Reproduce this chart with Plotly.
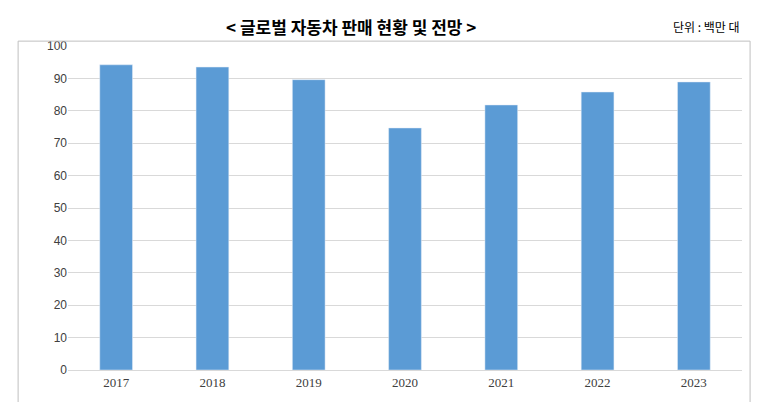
import plotly.graph_objects as go

years = ["2017", "2018", "2019", "2020", "2021", "2022", "2023"]
sales = [94.2, 93.5, 89.6, 74.7, 81.8, 85.8, 88.9]
y_ticks = list(range(0, 101, 10))

fig = go.Figure(go.Bar(x=years, y=sales, width=0.34, marker_color="#5B9BD5"))

fig.update_layout(
    width=772, height=402,
    margin=dict(l=60, r=38, t=38, b=40),
    paper_bgcolor="white", plot_bgcolor="white",
    showlegend=False,
    font=dict(family="Liberation Serif", size=13, color="#404040"),
    shapes=[dict(type="rect", xref="paper", yref="paper", x0=-0.074, x1=1.012, y0=-0.11, y1=1.015,
                 line=dict(color="#BFBFBF", width=1))],
    annotations=[
        dict(text="<b>&lt; 글로벌 자동차 판매 현황 및 전망 &gt;</b>", xref="paper", yref="paper",
             x=0.42, y=1, yshift=20, xanchor="center", yanchor="middle", showarrow=False,
             font=dict(family="Noto Sans CJK KR", size=17, color="black")),
        dict(text="단위 : 백만 대", xref="paper", yref="paper", x=1.0, y=1, yshift=20,
             xanchor="right", yanchor="middle", showarrow=False,
             font=dict(family="Noto Sans CJK KR", size=12, color="black")),
    ],
)
fig.update_xaxes(showline=True, linecolor="#D9D9D9", ticks="", tickfont=dict(size=13))
fig.update_yaxes(range=[0, 100], tickvals=y_ticks, gridcolor="#D9D9D9", zeroline=False,
                 tickfont=dict(family="Liberation Sans", size=12), ticklen=0)

fig.write_html("out.html")
